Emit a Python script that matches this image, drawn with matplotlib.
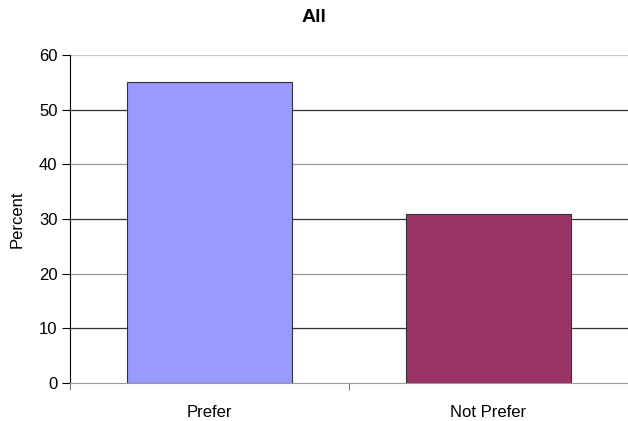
import numpy as np
import matplotlib
matplotlib.use("Agg")
import matplotlib.pyplot as plt

plt.rcParams['font.family'] = ['Liberation Sans', 'DejaVu Sans']

categories = ['Prefer', 'Not Prefer']
percent = [55, 31]
bar_colors = ['#9999FF', '#993366']
y_ticks = [0, 10, 20, 30, 40, 50, 60]

fig = plt.figure(figsize=(6.28, 4.21), dpi=100)
ax = fig.add_axes([70 / 628, 1 - 383 / 421, 558 / 628, 328 / 421])

x = np.arange(len(categories))
ax.bar(x, percent, width=0.59, color=bar_colors, edgecolor='#333333',
       linewidth=0.8, zorder=3)

ax.set_xlim(-0.5, len(categories) - 0.5)
ax.set_ylim(0, 60)
ax.set_yticks(y_ticks)

# horizontal gridlines, alternating dark and grey
for v in y_ticks[1:]:
    c = '#333333' if v % 20 else ('#c8c8c8' if v == 60 else '#999999')
    ax.axhline(v, color=c, linewidth=0.9, zorder=0)

ax.set_xticks(x)
ax.set_xticklabels(categories, fontsize=12)
ax.set_xticks(np.arange(-0.5, len(categories), 1), minor=True)
ax.tick_params(axis='x', which='major', length=0, pad=16)
ax.tick_params(axis='x', which='minor', length=5, color='#555555')
ax.tick_params(axis='y', length=6, labelsize=12, pad=3)

for side in ['top', 'right']:
    ax.spines[side].set_visible(False)
ax.spines['left'].set_color('#000000')
ax.spines['bottom'].set_color('#999999')

ax.set_ylabel('Percent', fontsize=12, labelpad=10)
fig.text(0.5, 1 - 18 / 421, 'All', ha='center', va='center',
         fontsize=14, fontweight='bold')

fig.savefig('out.png', dpi=100)
